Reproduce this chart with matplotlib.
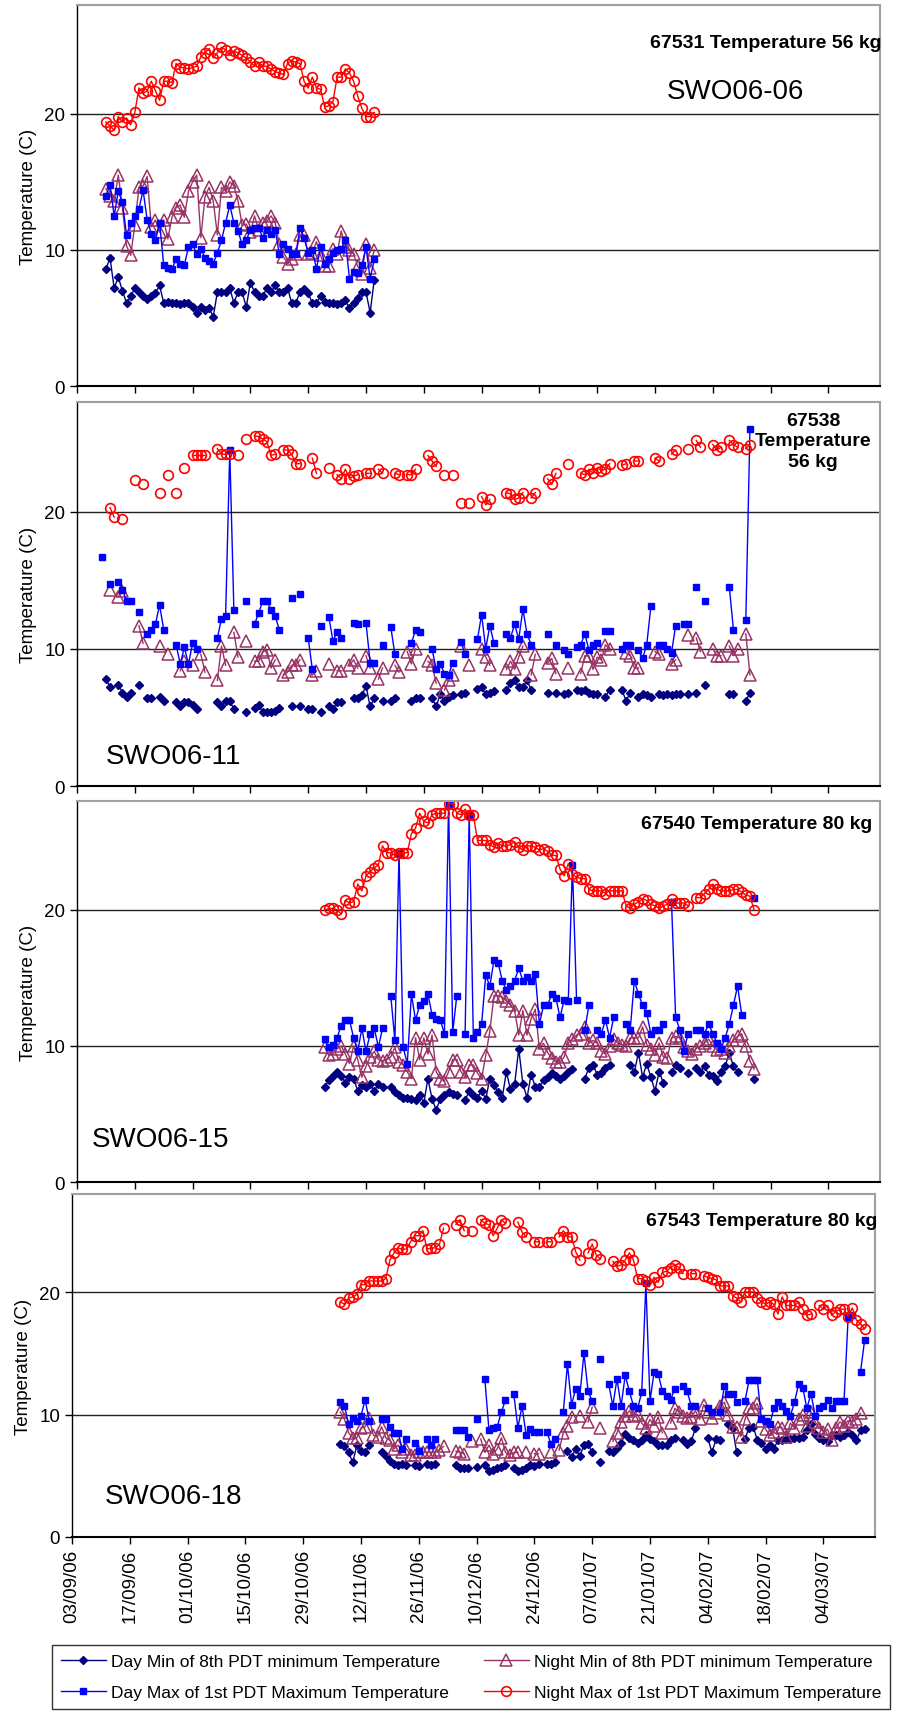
import numpy as np
import pandas as pd
import matplotlib
matplotlib.use("Agg")
import matplotlib.pyplot as plt
import matplotlib.dates as mdates
from matplotlib.lines import Line2D

nan = np.nan
start = pd.Timestamp("2006-09-03")

# ---- panel 1 (SWO06-06), daily values starting day 7 after 03/09/06
p1_first = 7
p1_daymin = [8.6, 9.4, 7.2, 8.0, 7.0, 6.1, 6.6, 7.2, 6.9, 6.6,
             6.4, 6.6, 6.8, 7.4, 6.1, 6.2, 6.1, 6.1, 6.0, 6.1,
             6.1, 5.8, 5.4, 5.8, 5.6, 5.7, 5.1, 6.9, 6.9, 6.9,
             7.2, 6.1, 6.9, 6.9, 5.8, 7.6, 6.9, 6.6, 6.6, 7.2,
             6.9, 7.4, 6.9, 6.9, 7.2, 6.1, 6.1, 6.9, 7.1, 6.8,
             6.1, 6.1, 6.6, 6.2, 6.1, 6.1, 6.0, 6.1, 6.3, 5.7,
             6.1, 6.5, 6.9, 6.9, 5.4, 7.8]
p1_nightmin = [14.5, 14.0, 13.6, 15.5, 13.1, 10.3, 9.6, 11.8, 14.6, 14.7,
               15.4, 11.7, 12.2, 11.3, 12.2, 10.8, 12.4, 13.1, 13.3, 12.4,
               14.3, 15.0, 15.5, 10.9, 13.9, 14.6, 13.6, 11.1, 14.6, 14.3,
               15.0, 14.7, 13.6, 11.8, 11.9, 11.3, 12.5, 11.5, 12.0, 12.1,
               12.5, 12.0, 10.4, 9.5, 9.0, 9.3, 9.7, 11.1, 11.1, 9.7,
               9.8, 10.6, 9.6, 8.8, 8.8, 10.1, 9.7, 11.4, 10.2, 10.0,
               9.7, 8.8, 8.2, 10.4, 8.7, 10.0]
p1_daymax = [14.0, 14.8, 12.5, 14.3, 13.5, 11.1, 12.0, 12.5, 13.0, 14.4,
             12.2, 11.2, 10.7, 12.0, 8.9, 8.7, 8.6, 9.3, 9.0, 8.9,
             10.2, 10.4, 9.7, 10.1, 9.4, 9.2, 9.0, 9.8, 10.7, 12.0,
             13.3, 12.0, 11.4, 10.4, 10.7, 11.5, 11.6, 11.6, 10.9, 11.5,
             11.2, 11.5, 9.7, 10.4, 10.1, 9.7, 9.7, 11.6, 10.9, 9.8,
             10.0, 8.6, 10.2, 9.0, 9.3, 9.8, 10.0, 10.1, 10.7, 7.9,
             8.4, 8.3, 8.9, 10.2, 7.9, 9.3]
p1_nightmax = [19.4, 19.1, 18.8, 19.8, 19.4, 19.7, 19.2, 20.1, 21.9, 21.5,
               21.7, 22.4, 21.7, 21.0, 22.4, 22.4, 22.3, 23.7, 23.4, 23.4,
               23.3, 23.4, 23.5, 24.2, 24.5, 24.8, 24.1, 24.5, 24.9, 24.7,
               24.3, 24.6, 24.5, 24.3, 24.1, 23.8, 23.5, 23.8, 23.5, 23.5,
               23.3, 23.1, 23.0, 22.9, 23.7, 23.9, 23.8, 23.7, 22.4, 21.9,
               22.7, 21.9, 21.8, 20.5, 20.6, 20.9, 22.7, 22.7, 23.3, 23.0,
               22.4, 21.3, 20.4, 19.8, 19.8, 20.1]

# ---- panel 2 (SWO06-11), logged days only (missing days leave gaps)
p2_daymin_days = [7, 8, 10, 11, 12, 13, 15, 17, 18, 20, 21, 24, 25, 26, 27, 28, 29, 34, 35, 36,
                  37, 38, 41, 43, 44, 45, 46, 47, 48, 49, 52, 54, 56, 57, 59, 61, 62, 63, 64, 67,
                  68, 69, 70, 71, 72, 74, 76, 77, 81, 82, 83, 86, 87, 88, 89, 90, 91, 93, 94, 97,
                  98, 99, 100, 101, 104, 105, 106, 107, 108, 109, 110, 114, 116, 118, 119, 121, 122, 123, 124, 125,
                  126, 128, 129, 132, 133, 134, 136, 137, 138, 139, 141, 142, 143, 144, 145, 146, 148, 150, 152, 158,
                  159, 162, 163]
p2_daymin = [7.8, 7.2, 7.4, 6.8, 6.5, 6.8, 7.4, 6.4, 6.4, 6.5, 6.2, 6.1, 5.8, 6.1, 6.1, 5.9, 5.6, 6.1, 5.8, 6.2,
             6.2, 5.6, 5.4, 5.7, 5.9, 5.4, 5.4, 5.4, 5.5, 5.7, 5.8, 5.8, 5.6, 5.6, 5.4, 5.8, 5.6, 6.1, 6.1, 6.4,
             6.4, 6.6, 7.3, 5.8, 6.4, 6.2, 6.2, 6.4, 6.2, 6.4, 6.4, 6.4, 5.8, 6.7, 6.2, 6.5, 6.6, 6.7, 6.8, 7.1,
             7.2, 6.7, 6.8, 6.9, 7.0, 7.5, 7.7, 7.2, 7.2, 7.7, 7.0, 6.8, 6.8, 6.7, 6.8, 7.0, 6.9, 7.0, 6.8, 6.7,
             6.7, 6.5, 7.0, 7.0, 6.2, 6.8, 6.5, 6.7, 6.6, 6.5, 6.7, 6.6, 6.7, 6.6, 6.7, 6.7, 6.7, 6.8, 7.4, 6.7,
             6.7, 6.2, 6.8]
p2_nightmin_days = [8, 10, 11, 15, 16, 20, 22, 25, 26, 28, 30, 31, 34, 35, 36, 38, 39, 41, 43, 44,
                    45, 46, 47, 48, 50, 51, 52, 53, 54, 57, 58, 61, 63, 64, 66, 67, 68, 70, 71, 73,
                    74, 77, 78, 80, 81, 82, 85, 86, 87, 89, 90, 91, 93, 95, 98, 99, 100, 104, 105, 106,
                    107, 108, 110, 111, 114, 115, 116, 119, 122, 123, 124, 125, 126, 127, 128, 129, 133, 134, 135, 136,
                    140, 141, 144, 145, 148, 150, 151, 154, 155, 156, 158, 159, 160, 162, 163]
p2_nightmin = [14.3, 13.8, 14.2, 11.7, 10.4, 10.2, 9.6, 8.4, 9.1, 8.8, 9.6, 8.3, 7.7, 10.2, 8.8, 11.2, 9.4, 10.6, 9.1, 9.1,
               9.8, 9.9, 8.6, 9.2, 8.1, 8.3, 8.8, 8.8, 9.2, 8.1, 8.4, 8.9, 8.4, 8.4, 8.8, 9.2, 8.6, 9.5, 8.6, 7.8,
               8.6, 8.8, 8.3, 9.8, 8.9, 10.0, 9.1, 8.8, 7.5, 7.0, 7.7, 8.1, 10.2, 8.8, 10.0, 9.4, 8.8, 8.5, 9.1, 8.5,
               9.4, 10.2, 8.1, 9.6, 9.0, 9.3, 8.2, 8.6, 8.2, 9.5, 9.5, 8.5, 9.4, 9.2, 10.3, 10.0, 9.7, 9.5, 8.6, 8.6,
               9.8, 9.6, 8.9, 9.2, 11.0, 10.8, 9.8, 10.0, 9.5, 9.5, 10.2, 9.5, 10.0, 11.1, 8.1]
p2_daymax_days = [6, 8, 10, 11, 12, 13, 15, 17, 18, 19, 20, 21, 24, 25, 26, 27, 28, 29, 34, 35,
                  36, 37, 38, 41, 43, 44, 45, 46, 47, 48, 49, 52, 54, 56, 57, 59, 61, 62, 63, 64,
                  67, 68, 70, 71, 72, 74, 76, 77, 81, 82, 83, 86, 87, 88, 89, 90, 91, 93, 94, 97,
                  98, 99, 100, 101, 104, 105, 106, 107, 108, 109, 110, 114, 116, 118, 119, 121, 122, 123, 124, 125,
                  126, 128, 129, 132, 133, 134, 136, 137, 138, 139, 141, 142, 143, 144, 145, 147, 148, 150, 152, 158,
                  159, 162, 163]
p2_daymax = [16.7, 14.7, 14.9, 14.3, 13.5, 13.5, 12.7, 11.1, 11.4, 11.8, 13.2, 11.4, 10.3, 8.9, 10.1, 8.9, 10.4, 10.0, 10.8, 12.2,
             12.4, 24.5, 12.8, 13.5, 11.8, 12.6, 13.5, 13.5, 12.8, 12.4, 11.4, 13.7, 14.0, 10.8, 8.5, 11.7, 12.3, 10.6, 11.2, 10.8,
             11.9, 11.8, 11.9, 9.0, 9.0, 10.3, 11.6, 9.6, 10.4, 11.4, 11.2, 10.0, 8.5, 8.9, 8.2, 8.1, 9.0, 10.5, 9.6, 10.7,
             12.5, 10.0, 11.7, 10.4, 11.1, 10.8, 11.8, 10.7, 12.9, 11.1, 10.3, 11.1, 10.3, 9.9, 9.6, 10.1, 10.3, 11.1, 9.9, 10.3,
             10.4, 11.3, 11.3, 10.0, 10.3, 10.3, 9.9, 9.3, 10.3, 13.1, 10.3, 10.3, 10.0, 9.7, 11.7, 11.8, 11.8, 14.5, 13.5, 14.5,
             11.4, 12.1, 26.0]
p2_nightmax_days = [8, 9, 11, 14, 16, 20, 22, 24, 26, 28, 29, 30, 31, 34, 35, 36, 37, 39, 41, 43,
                    44, 45, 46, 47, 48, 50, 51, 52, 53, 54, 57, 58, 61, 63, 64, 65, 66, 67, 68, 70,
                    71, 73, 74, 77, 78, 80, 81, 82, 85, 86, 87, 89, 91, 93, 95, 98, 99, 100, 104, 105,
                    106, 107, 108, 110, 111, 114, 115, 116, 119, 122, 123, 124, 125, 126, 127, 128, 129, 132, 133, 135,
                    136, 140, 141, 144, 145, 148, 150, 151, 154, 155, 156, 158, 159, 160, 162, 163]
p2_nightmax = [20.3, 19.6, 19.5, 22.3, 22.0, 21.4, 22.7, 21.4, 23.2, 24.1, 24.1, 24.1, 24.1, 24.6, 24.2, 24.2, 24.2, 24.1, 25.3, 25.5,
               25.5, 25.3, 25.1, 24.1, 24.2, 24.5, 24.5, 24.2, 23.5, 23.5, 23.9, 22.8, 23.2, 22.7, 22.4, 23.1, 22.4, 22.6, 22.7, 22.8,
               22.8, 23.1, 22.8, 22.8, 22.7, 22.7, 22.7, 23.1, 24.1, 23.7, 23.3, 22.7, 22.7, 20.6, 20.6, 21.1, 20.5, 20.9, 21.4, 21.3,
               20.9, 21.0, 21.4, 21.0, 21.4, 22.4, 22.0, 22.8, 23.5, 22.8, 22.7, 23.1, 22.8, 23.2, 23.0, 23.1, 23.5, 23.4, 23.5, 23.7,
               23.7, 23.9, 23.7, 24.2, 24.5, 24.6, 25.2, 24.7, 24.9, 24.5, 24.7, 25.2, 24.9, 24.7, 24.6, 24.9]

# ---- panel 3 (SWO06-15), daily values starting day 60
p3_first = 60
p3_daymin = [7.0, 7.5, 7.8, 8.1, 7.8, 7.3, 7.7, 7.6, 6.7, 7.1,
             7.0, 7.2, 6.7, 7.2, 7.0, nan, 7.0, 6.6, 6.4, 6.2,
             6.2, 6.1, 6.0, 6.4, 5.8, 7.6, 6.1, 5.3, 6.1, 6.4,
             6.6, 6.5, 6.4, nan, 6.0, 6.7, 6.4, 6.2, 6.7, 6.1,
             7.6, 7.1, 6.6, 6.2, 8.1, 6.8, 7.2, 9.8, 7.2, 6.2,
             7.9, 7.0, 7.0, 7.5, 7.7, 8.0, 7.8, 7.6, 7.8, 8.1,
             8.3, nan, nan, 7.6, 8.4, 8.6, 7.9, 8.0, 8.4, 8.6,
             nan, nan, nan, nan, 8.6, 8.1, 9.5, 7.7, 8.7, 7.7,
             6.7, 8.1, 7.3, nan, 8.1, 8.6, 8.4, nan, 8.0, nan,
             8.4, 8.1, 8.5, 7.9, 7.8, 7.4, 8.1, 8.5, 9.5, 8.5,
             8.1, nan, nan, nan, 7.6]
p3_nightmin = [9.9, 9.3, 9.4, 9.8, 10.0, 9.4, 8.7, 10.0, 9.0, 7.7,
               8.5, 9.2, 9.6, 9.0, 8.9, 9.0, 9.2, 9.9, 8.8, 8.6,
               8.1, 7.6, 10.6, 9.0, 10.6, 9.4, 10.8, 8.1, 7.6, 7.4,
               8.1, 9.0, 9.0, 8.1, 7.7, 8.6, 8.6, 8.0, 7.6, 9.3,
               11.1, 13.7, 13.7, 13.6, 13.3, 13.0, 12.6, 10.8, 12.6, 10.8,
               12.0, 12.7, 9.8, 10.2, 9.5, 9.1, 8.8, 8.8, 9.2, 10.2,
               10.5, 10.8, 10.9, 11.4, 10.2, 10.4, 10.2, 9.6, 9.4, 10.0,
               10.5, 10.2, 10.1, 10.0, 10.6, 10.6, 10.6, 11.4, 10.1, 9.8,
               9.3, 10.2, 9.2, 9.1, 10.6, 10.7, 10.6, 9.9, 9.6, 9.4,
               9.8, 10.0, 10.2, 10.5, 10.0, 9.7, 9.8, 9.5, 10.0, 10.4,
               10.7, 10.9, 10.0, 8.9, 8.3]
p3_daymax = [10.5, 9.9, 10.1, 10.6, 11.5, 11.9, 11.9, 10.6, 9.6, 11.3,
             9.6, 10.9, 11.3, 9.9, 11.3, nan, 13.7, 10.4, 24.2, 9.9,
             8.7, 13.8, 11.9, 13.0, 13.3, 13.8, 12.3, 12.0, 11.9, 10.9,
             27.8, 11.0, 13.7, nan, 10.9, 27.0, 10.6, 11.0, 11.6, 15.2,
             14.4, 16.3, 16.1, 14.8, 14.1, 14.4, 14.8, 15.7, 14.8, 15.1,
             14.8, 15.3, 11.6, 13.0, 13.0, 13.8, 13.5, 12.1, 13.4, 13.3,
             23.3, 13.4, nan, 11.2, 13.0, nan, 11.2, 10.9, 11.9, 10.6,
             12.1, nan, nan, 11.6, 11.2, 14.8, 13.8, 13.0, 12.4, 10.9,
             11.2, 11.2, 11.6, nan, 20.6, 12.1, 11.2, 9.6, 10.9, nan,
             11.2, 11.2, 10.9, 11.6, 10.9, 10.2, 9.8, 10.6, 11.6, 13.0,
             14.4, 12.3, nan, nan, 20.9]
p3_nightmax = [20.0, 20.1, 20.1, 20.0, 19.7, 20.7, 20.5, 20.6, 21.9, 21.4,
               22.5, 22.8, 23.1, 23.3, 24.7, 24.2, 24.2, 24.0, 24.2, 24.2,
               24.2, 25.6, 26.0, 27.1, 26.5, 26.4, 27.0, 27.1, 27.1, 27.1,
               27.8, 27.8, 27.1, 27.0, 27.4, 27.0, 27.0, 25.1, 25.1, 25.1,
               24.8, 24.6, 24.9, 24.7, 24.7, 24.8, 25.0, 24.6, 24.4, 24.7,
               24.7, 24.6, 24.4, 24.5, 24.3, 24.0, 24.0, 23.0, 22.5, 23.4,
               22.6, 22.4, 22.3, 22.3, 21.5, 21.4, 21.4, 21.4, 21.2, 21.4,
               21.4, 21.4, 21.4, 20.3, 20.1, 20.4, 20.6, 20.8, 20.7, 20.4,
               20.3, 20.1, 20.3, 20.4, 20.8, 20.5, 20.5, 20.5, 20.3, nan,
               20.9, 20.9, 21.2, 21.5, 21.9, 21.5, 21.4, 21.4, 21.4, 21.5,
               21.5, 21.3, 21.1, 21.0, 20.0]

# ---- panel 4 (SWO06-18), daily values starting day 65
p4_first = 65
p4_daymin = [7.6, 7.4, 6.9, 6.1, 7.5, 7.0, 6.9, 7.5, nan, nan,
             6.9, 6.6, 6.2, 6.0, 5.9, 6.0, 5.9, nan, 5.9, 5.8,
             nan, 6.0, 5.9, 6.0, nan, nan, nan, nan, 5.9, 5.6,
             5.6, 5.6, nan, 5.7, nan, 5.9, 5.4, 5.5, 5.6, 5.7,
             5.9, nan, 5.6, 5.4, 5.5, 5.6, 5.9, 5.8, 6.0, nan,
             6.0, 6.0, 6.1, nan, nan, 7.0, 6.5, 7.2, 6.6, 7.5,
             7.6, 6.9, nan, 6.1, nan, 7.0, 6.9, 7.3, 7.7, 8.4,
             8.1, 7.9, 7.7, 7.9, 8.3, 8.0, 7.8, 7.5, 7.5, 7.5,
             7.9, 8.1, nan, 7.9, 7.6, 7.8, 8.9, nan, nan, 8.1,
             6.9, 8.0, 7.9, nan, 9.2, 8.9, 6.9, nan, 8.0, 8.9,
             9.0, 7.9, 7.7, 7.2, 7.5, 7.2, 7.9, 7.9, 8.0, 8.0,
             8.1, 8.1, 8.2, 8.7, 9.2, 8.4, 8.1, 7.9, 7.8, 8.3,
             8.3, 8.2, 8.3, 8.6, 8.3, 7.9, 8.7, 8.8]
p4_nightmin = [10.2, 9.6, 8.5, 8.1, 8.1, 8.9, 9.0, 9.7, 8.3, 8.2,
               9.0, 8.1, 7.9, 7.2, 7.5, 6.9, 7.2, 6.7, 6.7, 6.9,
               6.9, 6.9, 6.9, 6.9, 7.1, 7.4, nan, nan, 7.0, 6.9,
               6.8, nan, 7.8, nan, 8.0, 6.9, 7.5, 6.8, 7.2, 8.1,
               6.9, 6.7, 6.9, 6.9, nan, 6.9, nan, 6.8, 6.8, nan,
               nan, 6.9, nan, 7.1, 8.5, 9.1, 9.8, nan, 9.9, nan,
               9.4, 10.6, nan, 8.9, nan, nan, 7.8, 8.5, 9.4, 9.9,
               10.3, 9.9, 10.0, 9.3, 8.9, 9.6, 9.1, 9.8, 8.5, nan,
               9.3, 10.5, 10.2, 9.9, 9.7, 9.8, 10.3, 9.6, 10.8, 10.2,
               9.7, 10.1, 10.7, 11.0, 10.0, 9.0, 9.0, 8.2, 9.6, 10.5,
               10.5, 10.9, 9.5, 8.8, 8.3, 8.6, 9.0, 8.9, 8.2, 9.3,
               8.9, 9.6, 10.0, 9.1, 10.2, 9.4, 8.9, 8.6, 8.8, 7.9,
               8.9, 9.4, 9.1, 9.5, 9.4, 9.6, 10.1, nan]
p4_daymax = [11.0, 10.7, 9.2, 9.7, 9.5, 9.9, 11.2, 9.5, nan, nan,
             9.6, 9.6, 9.0, 8.5, 8.5, 7.2, 8.0, nan, 7.7, 7.0,
             nan, 8.0, 7.5, 8.0, nan, nan, nan, nan, 8.7, 8.7,
             8.7, 8.2, nan, 9.6, nan, 12.9, 8.7, 8.9, 9.0, 10.2,
             11.2, nan, 11.7, 8.9, 10.7, 8.3, 8.8, 8.6, 8.6, nan,
             8.6, 7.6, 8.0, nan, 10.2, 14.1, 10.8, 12.1, 11.5, 15.0,
             11.9, 11.1, nan, 14.5, nan, 12.5, 10.7, 12.9, 10.7, 13.2,
             11.9, 10.7, 10.5, 11.8, 20.7, 11.1, 13.5, 13.3, 11.9, 11.5,
             11.2, 12.1, nan, 12.3, 11.9, 10.7, 10.7, nan, nan, 10.5,
             10.2, nan, 10.2, 12.3, 11.7, 11.7, 11.0, nan, 11.1, 12.8,
             12.8, 12.8, 9.6, 9.5, 9.2, 10.5, 11.0, 10.7, 10.3, 9.9,
             11.0, 12.5, 12.2, 10.5, 11.7, 9.9, 10.5, 10.7, 11.2, 10.5,
             11.1, 11.1, 11.1, 18.0, 18.1, nan, 13.5, 16.1]
p4_nightmax = [19.2, 19.0, 19.5, 19.6, 19.8, 20.6, 20.6, 20.9, 20.9, 20.9,
               20.9, 21.1, 22.6, 23.2, 23.6, 23.5, 23.5, 24.1, 24.6, 24.6,
               25.0, 23.5, 23.6, 23.6, 23.9, 25.2, nan, nan, 25.5, 25.9,
               25.0, nan, 25.0, nan, 25.9, 25.6, 25.5, 24.6, 25.2, 25.9,
               25.6, nan, nan, 25.7, 24.9, 24.5, nan, 24.1, 24.1, nan,
               24.1, 24.1, nan, 24.5, 25.0, 24.5, 24.5, 23.3, 22.6, nan,
               23.2, 23.9, 23.0, 22.7, nan, nan, 22.5, 22.1, 22.2, 22.6,
               23.2, 22.6, 21.1, 21.1, 20.9, 20.6, 21.2, 20.8, 21.6, 21.7,
               22.0, 22.2, 22.0, 21.5, nan, 21.5, 21.5, nan, 21.3, 21.2,
               21.1, 21.0, 20.5, 20.5, 20.5, 19.7, 19.5, 19.2, 20.0, 20.0,
               20.0, 19.5, 19.2, 19.0, 19.2, 19.0, 18.2, 19.6, 18.9, 18.9,
               18.9, 19.2, 18.6, 18.1, 18.2, nan, 18.9, 18.6, 18.9, 18.1,
               18.4, 18.6, 18.6, 18.0, 18.7, 17.7, 17.4, 17.0]

series_names = ["Day Min of 8th PDT minimum Temperature",
                "Night Min of 8th PDT minimum Temperature",
                "Day Max of 1st PDT Maximum Temperature",
                "Night Max of 1st PDT Maximum Temperature"]
tag_labels = ["67531 Temperature 56 kg", "67538\nTemperature\n56 kg",
              "67540 Temperature 80 kg", "67543 Temperature 80 kg"]
fish_labels = ["SWO06-06", "SWO06-11", "SWO06-15", "SWO06-18"]


def daily(first, values):
    idx = start + pd.to_timedelta(np.arange(first, first + len(values)), unit="D")
    return pd.Series(values, index=idx, dtype=float)


def logged(days, values):
    s = pd.Series(values, index=days, dtype=float).reindex(range(min(days), max(days) + 1))
    return pd.Series(s.values, index=start + pd.to_timedelta(s.index, unit="D"))


panels = [
    [daily(p1_first, p1_daymin), daily(p1_first, p1_nightmin),
     daily(p1_first, p1_daymax), daily(p1_first, p1_nightmax)],
    [logged(p2_daymin_days, p2_daymin), logged(p2_nightmin_days, p2_nightmin),
     logged(p2_daymax_days, p2_daymax), logged(p2_nightmax_days, p2_nightmax)],
    [daily(p3_first, p3_daymin), daily(p3_first, p3_nightmin),
     daily(p3_first, p3_daymax), daily(p3_first, p3_nightmax)],
    [daily(p4_first, p4_daymin), daily(p4_first, p4_nightmin),
     daily(p4_first, p4_daymax), daily(p4_first, p4_nightmax)],
]

styles = [
    dict(color="#000080", marker="D", ms=3.8, mfc="#000080", mec="#000080"),
    dict(color="#993366", marker="^", ms=8.0, mfc="none", mec="#993366", mew=1.1),
    dict(color="#0000FF", marker="s", ms=4.0, mfc="#0000FF", mec="#0000FF"),
    dict(color="#FF0000", marker="o", ms=7.0, mfc="none", mec="#FF0000", mew=1.2),
]

plt.rcParams["font.family"] = ["Liberation Sans", "DejaVu Sans"]

W, H = 900, 1715
fig = plt.figure(figsize=(W / 100, H / 100), dpi=100)

# axes boxes in pixels: left, top, right, bottom
boxes = [(77, 6, 880, 387), (77, 403, 880, 787), (77, 802, 880, 1183), (72, 1195, 875, 1538)]
ticks = pd.date_range("2006-09-03", "2007-03-04", freq="14D")
xmin, xmax = start, start + pd.Timedelta(days=194.5)

tag_pos = [(882, 44, "right"), (813, 442, "center"), (872, 825, "right"), (877, 1222, "right")]
fish_pos = [(667, 92), (106, 757), (92, 1140), (105, 1497)]

for i, (l, t, r, b) in enumerate(boxes):
    ax = fig.add_axes([l / W, 1 - b / H, (r - l) / W, (b - t) / H])
    for s, st in zip(panels[i], styles):
        ax.plot(s.index, s.values, lw=1.0, **st)
    ax.set_xlim(xmin, xmax)
    ax.set_ylim(0, 28)
    ax.set_yticks([0, 10, 20])
    ax.yaxis.grid(True, color="#222222", lw=1.0)
    ax.set_axisbelow(True)
    ax.set_xticks(ticks)
    ax.xaxis.set_major_formatter(mdates.DateFormatter("%d/%m/%y"))
    ax.tick_params(axis="both", direction="out", length=5, width=1, labelsize=13.5, colors="black")
    if i < 3:
        ax.tick_params(axis="x", labelbottom=False)
    else:
        plt.setp(ax.get_xticklabels(), rotation=90)
    ax.set_ylabel("Temperature (C)", fontsize=13.5, labelpad=5)
    for side in ("top", "right"):
        ax.spines[side].set_color("#A0A0A0")
        ax.spines[side].set_linewidth(1.5)
    ax.spines["left"].set_linewidth(1.0)
    ax.spines["bottom"].set_linewidth(1.5)

    tx, ty, ha = tag_pos[i]
    fig.text(tx / W, 1 - ty / H, tag_labels[i], ha=ha, va="center", fontsize=14,
             fontweight="bold", linespacing=1.3, multialignment="center")
    fx, fy = fish_pos[i]
    fig.text(fx / W, 1 - fy / H, fish_labels[i], ha="left", va="center", fontsize=20)

handles = [Line2D([], [], lw=1.0, **st) for st in styles]
order = [0, 2, 1, 3]
fig.legend([handles[k] for k in order], [series_names[k] for k in order],
           ncol=2, loc="upper left", bbox_to_anchor=(52 / W, 1 - 1646 / H),
           fontsize=12.5, frameon=True, fancybox=False, edgecolor="black",
           borderaxespad=0, handlelength=2.6, handletextpad=0.3, columnspacing=2.0,
           labelspacing=0.95, borderpad=0.5)

fig.savefig("out.png", dpi=100)
